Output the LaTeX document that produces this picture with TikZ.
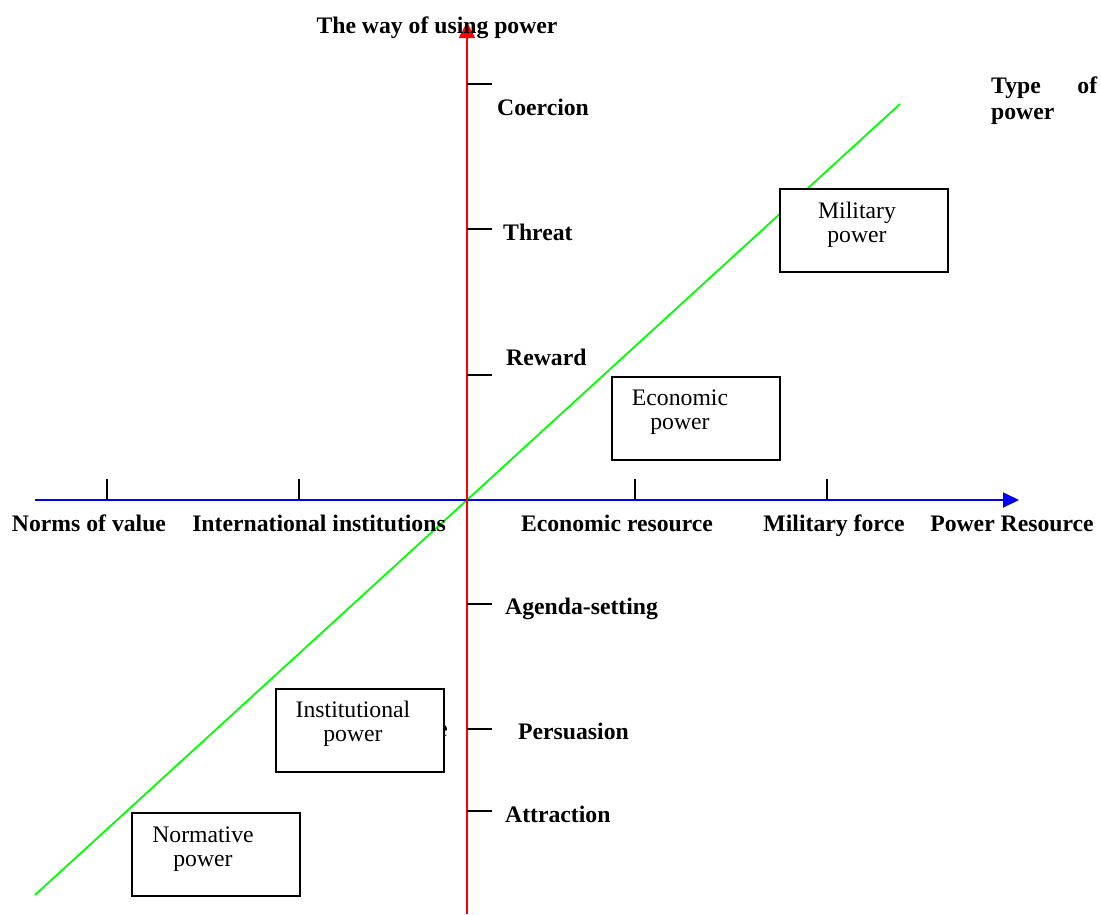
\documentclass[tikz,border=0pt]{standalone}
\usepackage{fontspec}
\setmainfont{Liberation Serif}
\usetikzlibrary{arrows.meta}
\begin{document}
\begin{tikzpicture}[x=1pt,y=-1pt,
  lbl/.style={font=\fontsize{23.7}{26}\selectfont\bfseries, inner sep=0pt, text height=16pt, text depth=5pt, yshift=-2.5pt},
  boxtxt/.style={font=\fontsize{23.7}{24.5}\selectfont, align=center, inner sep=0pt},
  pbox/.style={draw=black, line width=1.6pt, fill=white, minimum width=168pt, minimum height=83pt, inner sep=0pt},
  tickmark/.style={draw=black, line width=1.6pt},
  axisx/.style={draw=blue, line width=1.8pt, -{Triangle[length=16pt,width=15pt]}},
  axisy/.style={draw=red, line width=1.8pt, -{Triangle[length=16pt,width=16pt]}},
  diag/.style={draw=green, line width=1.8pt}]
\useasboundingbox (0,0) rectangle (1101,914);
% axis end points
\coordinate (xs) at (35,500);
\coordinate (xe) at (1019,500);
\coordinate (ys) at (467,914);
\coordinate (ye) at (467,22);
\coordinate (gs) at (35,895);
\coordinate (ge) at (900,104);
% stray fragment behind the institutional box
\node[boxtxt, anchor=east] (frag) at (448,731) {e};
% diagonal
\draw[diag] (gs) -- (ge);
% axes
\draw[axisx] (xs) -- (xe);
\draw[axisy] (ys) -- (ye);
% ticks on horizontal axis
\foreach \x/\n in {107/a,299/b,635/c,827/d}{
  \coordinate (hx\n) at (\x,500);
  \draw[tickmark] (hx\n) -- ++(0,-21);
}
% ticks on vertical axis
\foreach \y/\n in {84/a,229/b,375/c,604/d,729/e,811/f}{
  \coordinate (vy\n) at (467,\y);
  \draw[tickmark] (vy\n) -- ++(25,0);
}
% axis titles
\node[lbl] (ttl) at (437,25) {The way of using power};
\node[lbl, anchor=north west, text height=, text depth=, yshift=0pt] (tp) at (991,74) {\parbox{106pt}{\hyphenpenalty=10000 Type of \mbox{power}}};
% vertical axis labels
\node[lbl, anchor=west] (l1) at (497,107) {Coercion};
\node[lbl, anchor=west] (l2) at (503,232) {Threat};
\node[lbl, anchor=west] (l3) at (506,357) {Reward};
\node[lbl, anchor=west] (l4) at (505,606) {Agenda-setting};
\node[lbl, anchor=west] (l5) at (518,731) {Persuasion};
\node[lbl, anchor=west] (l6) at (505,814) {Attraction};
% horizontal axis labels
\node[lbl] (h1) at (89,523) {Norms of value};
\node[lbl] (h2) at (319,523) {International institutions};
\node[lbl] (h3) at (617,523) {Economic resource};
\node[lbl] (h4) at (834,523) {Military force};
\node[lbl] (h5) at (1012,523) {Power Resource};
% boxes
\node[pbox, anchor=north west] (mil) at (779,188) {};
\node[boxtxt] (milt) at (857,225) {Military\\power};
\node[pbox, anchor=north west] (eco) at (611,376) {};
\node[boxtxt] (ecot) at (680,412) {Economic\\power};
\node[pbox, anchor=north west] (ins) at (275,688) {};
\node[boxtxt] (inst) at (353,724) {Institutional\\power};
\node[pbox, anchor=north west] (nor) at (131,812) {};
\node[boxtxt] (nort) at (203,849) {Normative\\power};
\end{tikzpicture}
\end{document}
